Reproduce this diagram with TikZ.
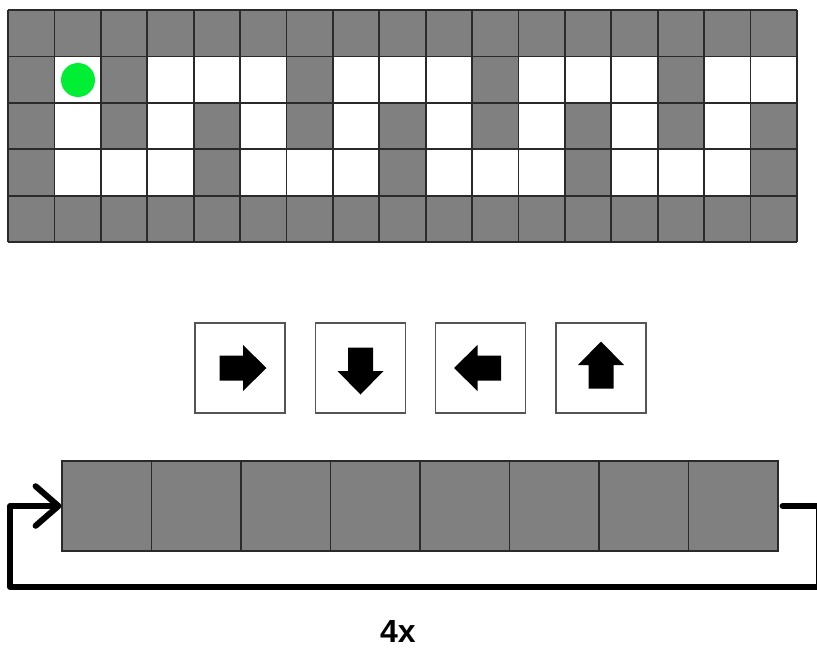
\documentclass[tikz,border=0pt]{standalone}
\usepackage{fontspec}
\setmainfont{Liberation Sans}
\usetikzlibrary{arrows.meta}
\definecolor{CellGray}{HTML}{808080}
\definecolor{CellLine}{HTML}{2A2A2A}
\definecolor{BoxLine}{HTML}{555555}
\definecolor{StartGreen}{HTML}{00EE33}

\tikzset{
  cmdbox/.style={draw=BoxLine, line width=1.5, fill=white, minimum size=90, inner sep=0},
  cmdarrow/.style={fill=black},
  loopline/.style={line width=6, line cap=round, line join=round},
}
\newcommand{\moveArrow}[2]{%
  \fill[cmdarrow, shift={(#1)}, rotate=#2]
    (-20.5,-12.5) -- (3,-12.5) -- (3,-23) -- (26.5,0) -- (3,23) -- (3,12.5) -- (-20.5,12.5) -- cycle;}

\begin{document}
\begin{tikzpicture}[x=1pt,y=-1pt, every node/.style={font=\bfseries}]
  \useasboundingbox (0,0) rectangle (817,648);
  \fill[white] (0,0) rectangle (817,648);
  \fill[CellGray] (8,10) rectangle (797,242);
  \foreach \r/\cols in {1/{1,3,4,5,7,8,9,11,12,13,15,16}, 2/{1,3,5,7,9,11,13,15}, 3/{1,2,3,5,6,7,9,10,11,13,14,15}} {
    \foreach \c in \cols
      \fill[white] ({8+\c*46.4},{10+\r*46.4}) rectangle ++(46.4,46.4);
  }
  \foreach \c in {0,...,17}
    \draw[CellLine, line width=1.8] ({8+\c*46.4},10) -- ({8+\c*46.4},242);
  \foreach \r in {0,...,5}
    \draw[CellLine, line width=1.8] (8,{10+\r*46.4}) -- (797,{10+\r*46.4});
  \fill[StartGreen] (78,80) circle (17);
  \node[cmdbox] (cmdRight) at (240,368) {};
  \node[cmdbox] (cmdDown) at (360.5,368) {};
  \node[cmdbox] (cmdLeft) at (480.5,368) {};
  \node[cmdbox] (cmdUp) at (601,368) {};
  \moveArrow{cmdRight}{0}
  \moveArrow{cmdDown}{-90}
  \moveArrow{cmdLeft}{180}
  \moveArrow{cmdUp}{90}
  \node[fill=CellGray, draw=CellLine, line width=1.2, minimum width=716, minimum height=90, inner sep=0] (slots) at (420,506) {};
  \foreach \k in {1,...,7}
    \draw[CellLine, line width=1.2] ({62+\k*89.5},461) -- ({62+\k*89.5},551);
  \draw[loopline, -{Straight Barb[length=0pt 3.8, width=0pt 6.6, round]}]
    ([xshift=4]slots.east) -| (819,587) -| (10,506) -- (slots.west);
  \node[font=\bfseries\fontsize{32}{38}\selectfont, inner sep=0] (reps) at (398,631) {4x};
\end{tikzpicture}
\end{document}
